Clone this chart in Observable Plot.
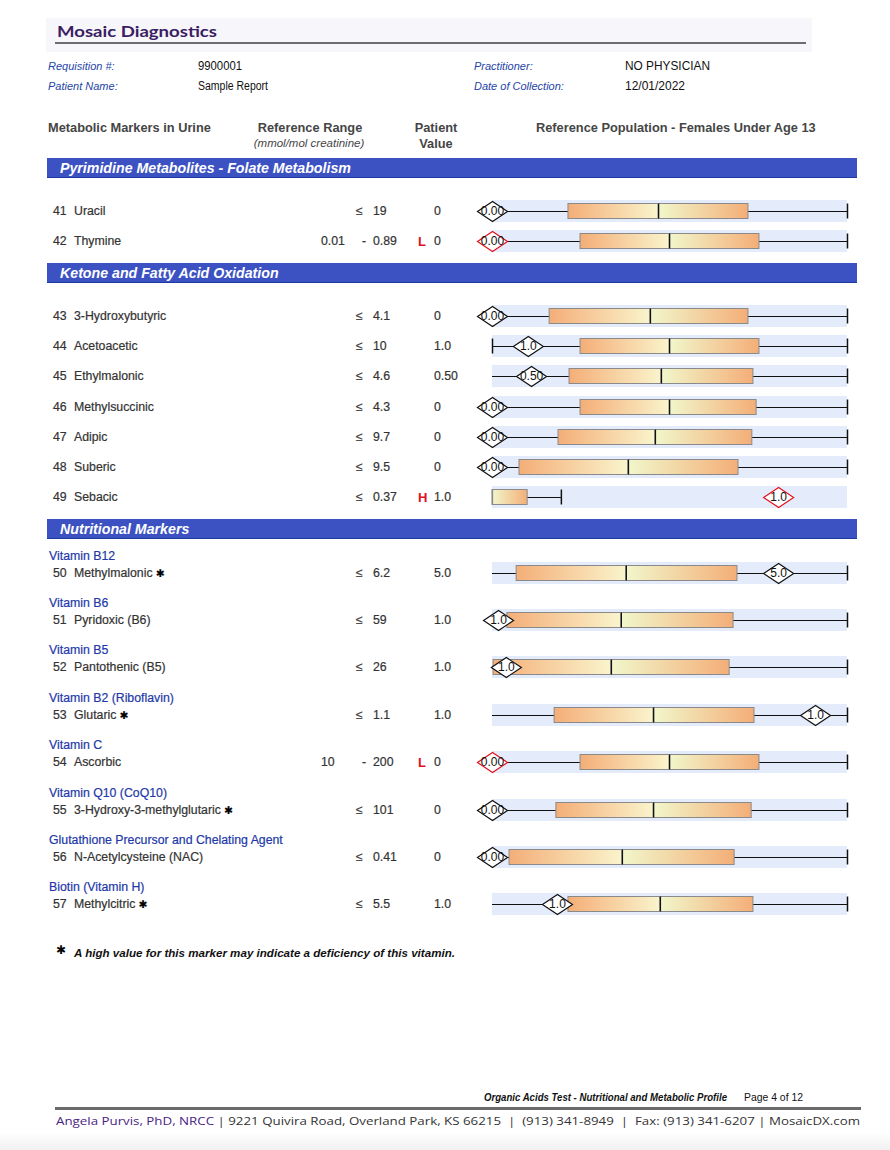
<!DOCTYPE html>
<html><head><meta charset="utf-8">
<script src="https://cdn.jsdelivr.net/npm/d3@7"></script>
<script src="https://cdn.jsdelivr.net/npm/@observablehq/plot@0.6"></script>
<style>
body{margin:0;background:#fff;}
#page{position:relative;width:890px;height:1150px;overflow:hidden;font-family:"Liberation Sans",Arial,sans-serif;color:#333;}
.t{position:absolute;white-space:nowrap;}
.b{-webkit-text-stroke:0.2px currentColor;}
</style></head><body><div id="page"></div>
<script>
// ---------- DATA ----------
const sectionTitles = ["Pyrimidine Metabolites - Folate Metabolism", "Ketone and Fatty Acid Oxidation", "Nutritional Markers"];
const markerIds = [41,42,43,44,45,46,47,48,49,50,51,52,53,54,55,56,57];
const markerNames = ["Uracil","Thymine","3-Hydroxybutyric","Acetoacetic","Ethylmalonic","Methylsuccinic","Adipic","Suberic","Sebacic",
  "Methylmalonic","Pyridoxic (B6)","Pantothenic (B5)","Glutaric","Ascorbic","3-Hydroxy-3-methylglutaric","N-Acetylcysteine (NAC)","Methylcitric"];
const markerSection = [0,0,1,1,1,1,1,1,1,2,2,2,2,2,2,2,2];
const vitaminGroups = ["","","","","","","","","",
  "Vitamin B12","Vitamin B6","Vitamin B5","Vitamin B2 (Riboflavin)","Vitamin C","Vitamin Q10 (CoQ10)","Glutathione Precursor and Chelating Agent","Biotin (Vitamin H)"];
const starred = [false,false,false,false,false,false,false,false,false,true,false,false,true,false,true,false,true];
const refLow  = ["","0.01","","","","","","","","","","","","10","","",""];
const refHigh = ["19","0.89","4.1","10","4.6","4.3","9.7","9.5","0.37","6.2","59","26","1.1","200","101","0.41","5.5"];
const flags   = ["","L","","","","","","","H","","","","","L","","",""];
const patientValues = ["0","0","0","1.0","0.50","0","0","0","1.0","5.0","1.0","1.0","1.0","0","0","0","1.0"];
const diamondLabels = ["0.00","0.00","0.00","1.0","0.50","0.00","0.00","0.00","1.0","5.0","1.0","1.0","1.0","0.00","0.00","0.00","1.0"];
// reference-population box plots, read on the chart's 0–100 population scale
const whiskerLow  = [0,0,0,0,0,0,0,0,0,0,0,0,0,0,0,0,0];
const quartile1   = [21.4,24.8,16.1,24.8,21.7,24.8,18.6,7.6,0,6.8,4.2,0.3,17.5,24.8,18.0,4.8,21.4];
const medians     = [46.8,49.9,44.5,49.9,47.6,49.9,45.9,38.3,0,37.7,36.3,33.5,45.4,49.9,45.4,36.6,47.3];
const quartile3   = [72.1,75.2,72.1,75.2,73.5,74.4,73.2,69.3,9.9,69.0,67.9,66.8,73.8,75.2,73.0,68.2,73.5];
const whiskerHigh = [100,100,100,100,100,100,100,100,19.4,100,100,100,100,100,100,100,100];
const patientPos  = [0,0,0,10.1,11.0,0,0,0,80.6,80.6,1.7,3.9,91.0,0,0,0,18.3];
const leftTickRows = [44];
const scaleDomain = [0, 100];

const headerLabels = ["Requisition #:", "Patient Name:", "Practitioner:", "Date of Collection:"];
const headerValues = ["9900001", "Sample Report", "NO PHYSICIAN", "12/01/2022"];

// ---------- LAYOUT ----------
const page = document.getElementById("page");
function place(text, x, yc, css = {}, align = "left", cls = "") {
  const el = document.createElement("div");
  el.className = "t " + cls;
  const fs = parseFloat(css.fontSize || "12px");
  const lh = Math.round(fs * 1.3);
  Object.assign(el.style, {left: x + "px", top: (yc - lh / 2) + "px", lineHeight: lh + "px", fontSize: fs + "px"}, css);
  if (align === "center") el.style.transform = "translateX(-50%)";
  if (align === "right") el.style.transform = "translateX(-100%)";
  el.textContent = text;
  page.appendChild(el);
  return el;
}
function fitWidth(el, w) {
  const cw = el.getBoundingClientRect().width;
  el.style.transformOrigin = "left center";
  el.style.transform = `scaleX(${w / cw})`;
}
function box(x, y, w, h, css) {
  const el = document.createElement("div");
  Object.assign(el.style, {position: "absolute", left: x + "px", top: y + "px", width: w + "px", height: h + "px"}, css);
  page.appendChild(el);
  return el;
}

// gradient defs shared by all plots
const defs = d3.select(page).append("svg").attr("width", 0).attr("height", 0).style("position", "absolute");
const dd = defs.append("defs");
const gl = dd.append("linearGradient").attr("id", "gradL");
gl.append("stop").attr("offset", "0%").attr("stop-color", "#f4ae78");
gl.append("stop").attr("offset", "100%").attr("stop-color", "#faf4cc");
const gr = dd.append("linearGradient").attr("id", "gradR");
gr.append("stop").attr("offset", "0%").attr("stop-color", "#f1f7cb");
gr.append("stop").attr("offset", "100%").attr("stop-color", "#f4ae78");

// header
box(46, 18, 766, 34, {background: "#f7f6fa"});
const title = place("Mosaic Diagnostics", 57, 30, {fontSize: "16px", fontFamily: "Lato, 'Open Sans', sans-serif", fontWeight: "700", color: "#3a1d63"});
fitWidth(title, 160);
box(55, 42, 751, 2, {background: "#6d6d6d"});
const hx = [[48, 198], [48, 198], [474, 625], [474, 625]];
const hy = [66, 86, 66, 86];
const hw = [44, 70, 85, 60];
headerLabels.forEach((l, i) => {
  place(l, hx[i][0], hy[i], {fontSize: "11px", fontStyle: "italic", color: "#2544a6"});
  const v = place(headerValues[i], hx[i][1], hy[i], {fontSize: "12.5px", color: "#111"});
  fitWidth(v, hw[i]);
});
const colHead = {fontSize: "12.8px", fontWeight: "700", color: "#454545"};
place("Metabolic Markers in Urine", 48, 127, colHead);
place("Reference Range", 310, 127, colHead, "center");
place("(mmol/mol creatinine)", 309, 143, {fontSize: "11.5px", fontStyle: "italic", color: "#454545"}, "center");
place("Patient", 436, 127, colHead, "center");
place("Value", 436, 143, colHead, "center");
place("Reference Population - Females Under Age 13", 536, 127, colHead);

// diamond symbol (wider than tall)
const wideDiamond = {
  draw(context, size) {
    const r = Math.sqrt(size / Math.PI), w = r * 1.5;
    context.moveTo(-w, 0); context.lineTo(0, -r); context.lineTo(w, 0); context.lineTo(0, r); context.closePath();
  }
};

function drawRow(i, yc) {
  const txt = {fontSize: "12.3px", color: "#333"};
  place(String(markerIds[i]), 53, yc, txt, "left", "b");
  const nm = place(markerNames[i], 74, yc, txt, "left", "b");
  if (starred[i]) {
    const s = document.createElement("span");
    s.textContent = " \u2731";
    s.style.fontFamily = "'DejaVu Sans', sans-serif";
    s.style.fontSize = "10.5px";
    s.style.color = "#000";
    nm.appendChild(s);
  }
  if (refLow[i]) {
    place(refLow[i], 321, yc, txt, "left", "b");
    place("-", 362, yc, txt, "left", "b");
  } else {
    place("\u2264", 356, yc, txt, "left", "b");
  }
  place(refHigh[i], 373, yc, txt, "left", "b");
  if (flags[i]) place(flags[i], 418, yc, {fontSize: "13px", fontWeight: "700", color: "#e0101e"});
  place(patientValues[i], 434, yc, txt, "left", "b");

  const d = {lo: whiskerLow[i], q1: quartile1[i], med: medians[i], q3: quartile3[i], hi: whiskerHigh[i],
             pos: patientPos[i], label: diamondLabels[i], flag: flags[i]};
  const ink = "#111";
  const marks = [
    Plot.rect([d], {x1: () => scaleDomain[0], x2: () => scaleDomain[1], fill: "#e4ecfb", insetTop: 4, insetBottom: 4}),
    Plot.ruleY([d], {y: () => 0, x1: "lo", x2: "hi", stroke: ink, strokeWidth: 1.2}),
    Plot.tickX([d], {x: "hi", stroke: ink, strokeWidth: 1.5, insetTop: 7.5, insetBottom: 7.5})
  ];
  if (leftTickRows.includes(markerIds[i])) marks.push(Plot.tickX([d], {x: "lo", stroke: ink, strokeWidth: 1.5, insetTop: 7.5, insetBottom: 7.5}));
  if (d.med > d.q1) marks.push(Plot.rect([d], {x1: "q1", x2: "med", fill: "url(#gradL)", stroke: "#8a8a8a", insetTop: 7.5, insetBottom: 7.5}));
  marks.push(
    Plot.rect([d], {x1: "med", x2: "q3", fill: "url(#gradR)", stroke: "#8a8a8a", insetTop: 7.5, insetBottom: 7.5}),
    Plot.tickX([d], {x: "med", stroke: d.med > d.q1 ? ink : "#8a8a8a", strokeWidth: 1.3, insetTop: 7.5, insetBottom: 7.5}),
    Plot.dot([d], {x: "pos", symbol: wideDiamond, r: 10, fill: "white", stroke: d => d.flag ? "#e3101e" : "#111", strokeWidth: 1.2}),
    Plot.text([d], {x: "pos", text: "label", fontSize: 12, fill: "#111"})
  );
  const svg = Plot.plot({
    width: 400, height: 30, marginLeft: 22, marginRight: 23, marginTop: 0, marginBottom: 0,
    x: {domain: scaleDomain, axis: null}, y: {domain: [-1, 1], axis: null},
    style: {background: "transparent", overflow: "visible", fontFamily: "'Liberation Sans', Arial, sans-serif"},
    marks
  });
  const holder = box(470, yc - 15, 400, 30, {});
  holder.appendChild(svg);
}

// sections
let y = 158;
sectionTitles.forEach((title, s) => {
  box(47, y, 810, 20, {background: "#3c52c3", borderBottom: "1px solid #1e3aa0", boxSizing: "border-box"});
  place(title, 60, y + 10, {fontSize: "14.2px", fontWeight: "700", fontStyle: "italic", color: "#fff"});
  y += 20;
  const idx = d3.range(markerIds.length).filter(i => markerSection[i] === s);
  if (!vitaminGroups[idx[0]]) {
    y += 18;
    idx.forEach(i => { drawRow(i, y + 15); y += 30.3; });
    y += 6;
  } else {
    y += 8.3;
    idx.forEach(i => {
      place(vitaminGroups[i], 49, y + 8.5, {fontSize: "12.3px", color: "#2238a8"}, "left", "b");
      drawRow(i, y + 25.5);
      y += 47.4;
    });
  }
});

// footnote
place("\u2731", 56, 950, {fontSize: "12px", fontFamily: "'DejaVu Sans', sans-serif", color: "#000"});
place("A high value for this marker may indicate a deficiency of this vitamin.", 74, 952, {fontSize: "11.6px", fontWeight: "700", fontStyle: "italic", color: "#111"});

// footer
const f1 = place("Organic Acids Test - Nutritional and Metabolic Profile", 484, 1097, {fontSize: "10px", fontWeight: "700", fontStyle: "italic", color: "#111"});
fitWidth(f1, 243);
const f2 = place("Page 4 of 12", 744, 1097, {fontSize: "11px", color: "#111"});
fitWidth(f2, 59);
box(55, 1107, 806, 3, {background: "#6b6b6b"});
const foot = place("", 56, 1120, {fontSize: "11.5px", fontFamily: "'Open Sans', Lato, sans-serif", color: "#333"});
const fp = document.createElement("span"); fp.textContent = "Angela Purvis, PhD, NRCC"; fp.style.color = "#4a2384";
foot.appendChild(fp);
foot.appendChild(document.createTextNode(" | 9221 Quivira Road, Overland Park, KS 66215  |  (913) 341-8949  |  Fax: (913) 341-6207 | MosaicDX.com"));
foot.style.whiteSpace = "pre";
fitWidth(foot, 804);
box(0, 1132, 890, 18, {background: "linear-gradient(#ffffff, #f1f1f1)"});
</script></body></html>
